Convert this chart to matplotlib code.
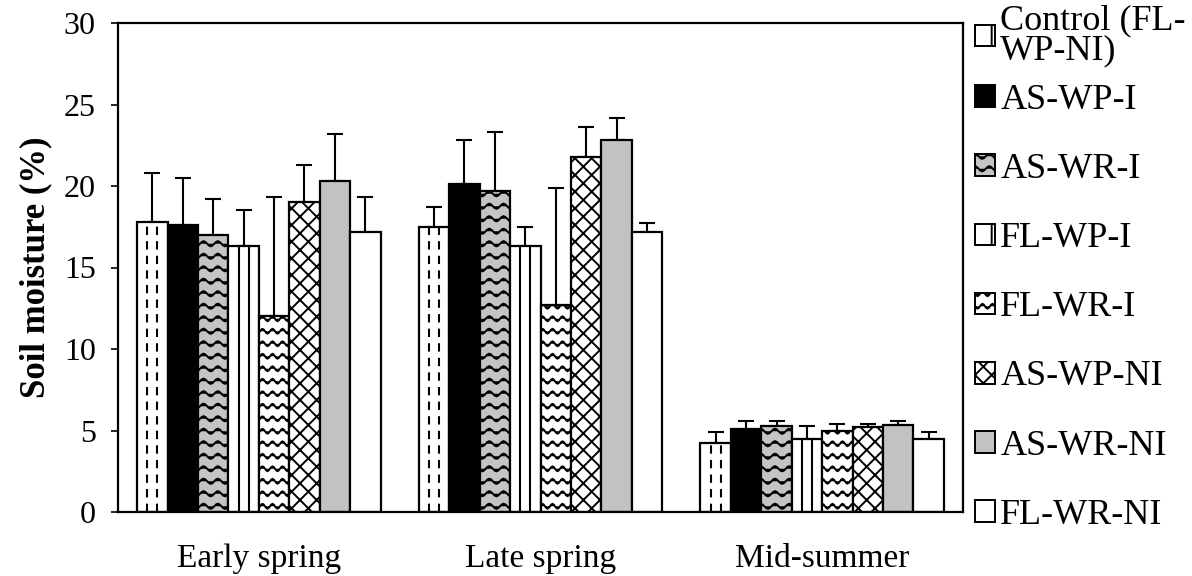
import warnings
warnings.filterwarnings("ignore")
import numpy as np
import matplotlib
matplotlib.use("Agg")
import matplotlib.pyplot as plt
import matplotlib.hatch as mhatch
from matplotlib.path import Path
from matplotlib.patches import Patch

# ---------------- data ----------------
categories = ["Early spring", "Late spring", "Mid-summer"]
series = ["Control (FL-\nWP-NI)", "AS-WP-I", "AS-WR-I", "FL-WP-I",
          "FL-WR-I", "AS-WP-NI", "AS-WR-NI", "FL-WR-NI"]
early_vals = [17.8, 17.6, 17.0, 16.3, 12.0, 19.0, 20.3, 17.2]
early_err = [3.0, 2.9, 2.2, 2.2, 7.3, 2.3, 2.9, 2.1]
late_vals = [17.5, 20.1, 19.7, 16.3, 12.7, 21.8, 22.8, 17.2]
late_err = [1.2, 2.7, 3.6, 1.2, 7.2, 1.8, 1.4, 0.5]
mid_vals = [4.25, 5.1, 5.3, 4.5, 5.0, 5.2, 5.35, 4.5]
mid_err = [0.65, 0.5, 0.3, 0.8, 0.4, 0.2, 0.25, 0.4]
yticks = [0, 5, 10, 15, 20, 25, 30]


# ---------------- custom wavy hatch ----------------
class WaveHatch(mhatch.HatchPatternBase):
    def __init__(self, hatch, density):
        self.n1 = hatch.count('~')
        self.n2 = hatch.count('^')
        if self.n1:
            self.rows, self.periods, self.amp = 8 * self.n1, 10, 0.024
        elif self.n2:
            self.rows, self.periods, self.amp = 8 * self.n2, 7, 0.026
        else:
            self.rows, self.periods, self.amp = 0, 1, 0
        self.pts = self.periods * 8 + 1
        self.num_vertices = self.rows * self.pts

    def set_vertices_and_codes(self, vertices, codes):
        xs = np.linspace(0, 1, self.pts)
        for i in range(self.rows):
            y0 = (i + 0.5) / self.rows
            ys = y0 + self.amp * np.sin(2 * np.pi * self.periods * xs)
            sl = slice(i * self.pts, (i + 1) * self.pts)
            vertices[sl, 0] = xs
            vertices[sl, 1] = ys
            codes[sl] = Path.LINETO
            codes[i * self.pts] = Path.MOVETO


mhatch._hatch_types.append(WaveHatch)

plt.rcParams['font.family'] = ['Liberation Serif', 'DejaVu Serif']
plt.rcParams['hatch.linewidth'] = 1.4
plt.rcParams['hatch.color'] = 'black'

styles = [
    dict(facecolor='white', hatch=None),
    dict(facecolor='black', hatch=None),
    dict(facecolor='#c4c4c4', hatch='^'),
    dict(facecolor='white', hatch=None),
    dict(facecolor='white', hatch='~'),
    dict(facecolor='white', hatch='xx'),
    dict(facecolor='#c2c2c2', hatch=None),
    dict(facecolor='white', hatch=None),
]

fig = plt.figure(figsize=(11.92, 5.76), dpi=100)
ax = fig.add_axes([118 / 1192, 1 - 512 / 576, (963 - 118) / 1192, (512 - 23) / 576])

vals = np.array([early_vals, late_vals, mid_vals])
errs = np.array([early_err, late_err, mid_err])
x = np.arange(len(categories))
n = len(series)
w = 0.108

for j in range(n):
    xpos = x + (j - (n - 1) / 2) * w
    bars = ax.bar(xpos, vals[:, j], width=w, edgecolor='black', linewidth=1.6,
                  zorder=2, **styles[j])
    ax.errorbar(xpos, vals[:, j], yerr=[np.zeros(len(x)), errs[:, j]], fmt='none',
                ecolor='black', elinewidth=1.5, capsize=6, capthick=1.5, zorder=1)
    if j in (0, 3):
        for b in bars:
            x0, bw, h = b.get_x(), b.get_width(), b.get_height()
            ls = (0, (4, 3)) if j == 0 else '-'
            ax.vlines([x0 + bw / 3, x0 + 2 * bw / 3], 0, h, colors='black',
                      linestyles=ls, linewidth=1.5, zorder=3)

ax.set_xlim(-0.5, len(categories) - 0.5)
ax.set_ylim(0, 30)
ax.set_yticks(yticks)
ax.set_xticks(x)
ax.set_xticklabels(categories, fontsize=24)
ax.tick_params(axis='x', length=0, pad=23)
ax.tick_params(axis='y', labelsize=23, direction='out', length=5, width=1.2, pad=11)
for s in ax.spines.values():
    s.set_linewidth(1.6)
ax.set_ylabel("Soil moisture (%)", fontsize=25, fontweight='bold', labelpad=8)

# legend
leg_hatch = ['|', None, '^', '|', '~', 'xx', None, None]
handles = [Patch(facecolor=styles[j]['facecolor'], edgecolor='black', linewidth=1.4,
                 hatch=leg_hatch[j]) for j in range(n)]
common = dict(loc='upper left', frameon=False, fontsize=26, handlelength=0.55,
              handleheight=0.55, handletextpad=0.15, borderaxespad=0.0, borderpad=0.0)
leg1 = fig.legend(handles[:1], series[:1], bbox_to_anchor=(975 / 1192, 1 - 4 / 576), **common)
for t in leg1.get_texts():
    t.set_linespacing(0.9)
leg2 = fig.legend(handles[1:], series[1:], bbox_to_anchor=(975 / 1192, 1 - 84 / 576),
                  labelspacing=1.0, **common)

fig.savefig("out.png", dpi=100)
